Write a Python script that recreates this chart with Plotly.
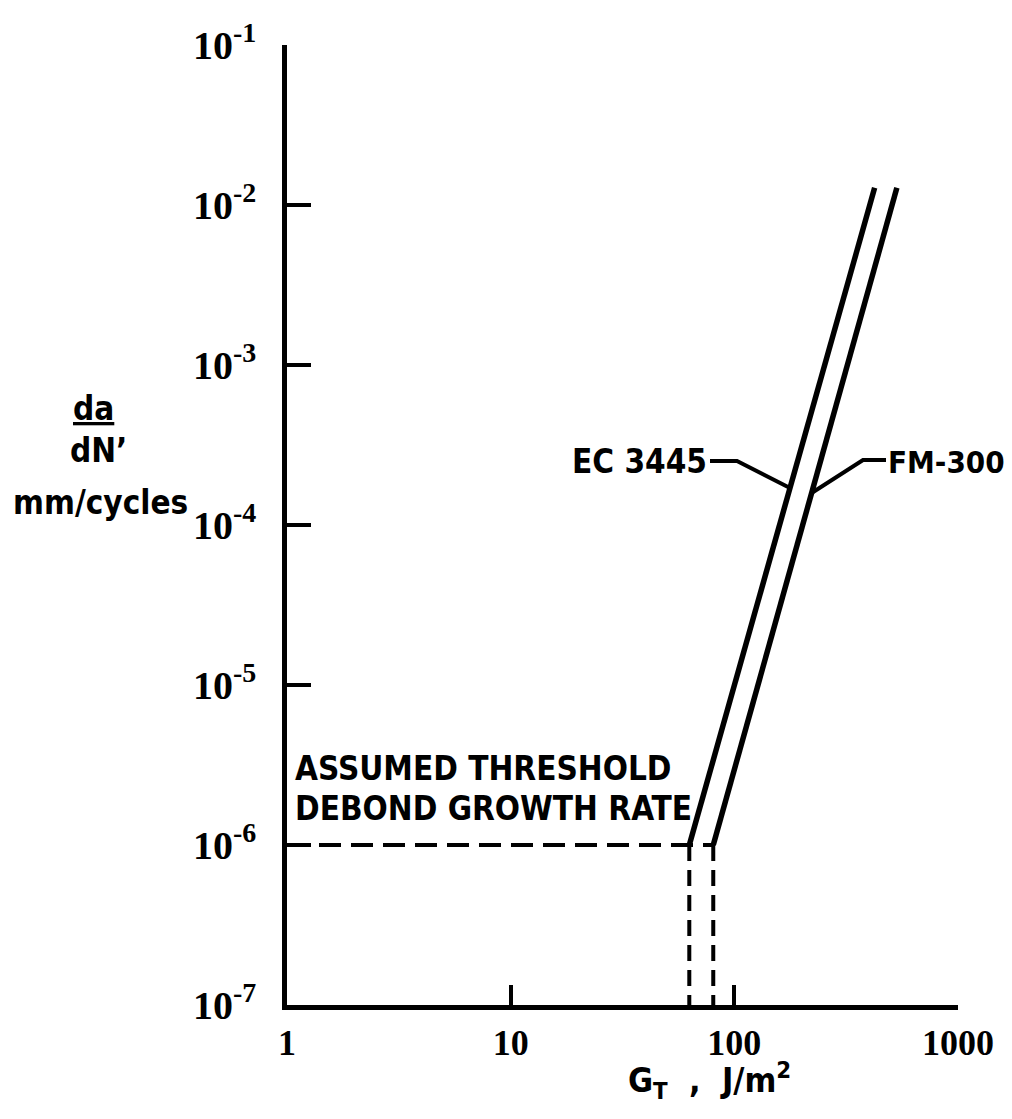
import plotly.graph_objects as go
import math

# ---------------- data ----------------
x_tick_vals = [1, 10, 100, 1000]
x_tick_text = ["1", "10", "100", "1000"]
y_tick_exponents = [-1, -2, -3, -4, -5, -6, -7]

threshold_rate = 1e-6            # assumed threshold debond growth rate, mm/cycle
ec_G = [62.9, 424.0]             # EC 3445, G_T (J/m^2)
ec_rate = [1e-6, 1.28e-2]        # EC 3445, da/dN (mm/cycle)
fm_G = [80.5, 533.0]             # FM-300, G_T (J/m^2)
fm_rate = [1e-6, 1.28e-2]        # FM-300, da/dN (mm/cycle)

axis_min_rate = 1e-7

# ---------------- layout geometry ----------------
W, H = 1012, 1119
L, R, T, B = 287, 54, 45, 114
PW, PH = W - L - R, H - T - B

def px_x(px):
    return (px - L) / PW

def px_y(py):
    return (H - B - py) / PH

def G_on_line(Gs, rates, rate):
    lx0, lx1 = math.log10(Gs[0]), math.log10(Gs[1])
    ly0, ly1 = math.log10(rates[0]), math.log10(rates[1])
    t = (math.log10(rate) - ly0) / (ly1 - ly0)
    return 10 ** (lx0 + t * (lx1 - lx0))

def g_from_px(px):
    return 10 ** ((px - L) / PW * 3)

def r_from_py(py):
    return 10 ** (-1 - (py - T) / PH * 6)

sans = "DejaVu Sans Condensed, DejaVu Sans, sans-serif"
serif = "Liberation Serif, serif"
lab_font = dict(family=sans, size=33, color="black", weight="bold")

fig = go.Figure()

line_style = dict(color="black", width=5.5)

# main curves
fig.add_trace(go.Scatter(x=ec_G, y=ec_rate, mode="lines", line=line_style,
                         showlegend=False, hoverinfo="skip"))
fig.add_trace(go.Scatter(x=fm_G, y=fm_rate, mode="lines", line=line_style,
                         showlegend=False, hoverinfo="skip"))

# threshold dashed lines
fig.add_trace(go.Scatter(x=[1, fm_G[0]], y=[threshold_rate, threshold_rate], mode="lines",
                         line=dict(color="black", width=4, dash="22px,10px"),
                         showlegend=False, hoverinfo="skip"))
for g in (ec_G[0], fm_G[0]):
    fig.add_trace(go.Scatter(x=[g, g], y=[threshold_rate, axis_min_rate], mode="lines",
                             line=dict(color="black", width=4, dash="16px,9px"),
                             showlegend=False, hoverinfo="skip"))

# leader lines for labels
ec_pt_rate = r_from_py(488)
ec_pt_G = G_on_line(ec_G, ec_rate, ec_pt_rate)
ec_lead_y = r_from_py(461)
fig.add_trace(go.Scatter(x=[g_from_px(710), g_from_px(737), ec_pt_G],
                         y=[ec_lead_y, ec_lead_y, ec_pt_rate], mode="lines",
                         line=dict(color="black", width=4),
                         showlegend=False, hoverinfo="skip"))
fm_pt_rate = r_from_py(493)
fm_pt_G = G_on_line(fm_G, fm_rate, fm_pt_rate)
fm_lead_y = r_from_py(460)
fig.add_trace(go.Scatter(x=[fm_pt_G, g_from_px(863), g_from_px(886)],
                         y=[fm_pt_rate, fm_lead_y, fm_lead_y], mode="lines",
                         line=dict(color="black", width=4),
                         showlegend=False, hoverinfo="skip"))

annotations = [
    dict(text="EC 3445", x=px_x(709), y=px_y(462), xanchor="right", yanchor="middle",
         font=lab_font),
    dict(text="FM-300", x=px_x(886), y=px_y(462), xanchor="left", yanchor="middle",
         font=dict(family=sans, size=31, color="black", weight="bold")),
    dict(text="ASSUMED THRESHOLD", x=px_x(293), y=px_y(768),
         xanchor="left", yanchor="middle", font=lab_font),
    dict(text="DEBOND GROWTH RATE", x=px_x(293), y=px_y(808),
         xanchor="left", yanchor="middle", font=lab_font),
    dict(text="<u>da</u>", x=px_x(93), y=px_y(408), xanchor="center", yanchor="middle",
         font=lab_font),
    dict(text="dN’", x=px_x(98), y=px_y(450), xanchor="center", yanchor="middle",
         font=lab_font),
    dict(text="mm/cycles", x=px_x(100), y=px_y(502), xanchor="center", yanchor="middle",
         font=lab_font),
    dict(text="G<sub>T</sub>  ,  J/m<sup>2</sup>", x=px_x(709), y=px_y(1080),
         xanchor="center", yanchor="middle",
         font=dict(family=sans, size=34, color="black", weight="bold")),
]
for a in annotations:
    a.update(xref="paper", yref="paper", showarrow=False)

fig.update_layout(
    width=W, height=H, autosize=False,
    margin=dict(l=L, r=R, t=T, b=B, pad=0),
    paper_bgcolor="white", plot_bgcolor="white",
    showlegend=False,
    annotations=annotations,
    xaxis=dict(
        type="log", range=[0, 3],
        showline=True, linecolor="black", linewidth=4.5,
        showgrid=False, zeroline=False,
        ticks="inside", ticklen=20, tickwidth=4, tickcolor="black",
        tickmode="array", tickvals=x_tick_vals, ticktext=x_tick_text,
        tickfont=dict(family=serif, size=36, color="black", weight="bold"),
        ticklabelstandoff=2,
    ),
    yaxis=dict(
        type="log", range=[-7, -1],
        showline=True, linecolor="black", linewidth=4.5,
        showgrid=False, zeroline=False,
        ticks="inside", ticklen=24, tickwidth=4, tickcolor="black",
        tickmode="array",
        tickvals=[10.0 ** e for e in y_tick_exponents],
        ticktext=[f"10<sup>{e}</sup>" for e in y_tick_exponents],
        tickfont=dict(family=serif, size=40, color="black", weight="bold"),
        ticklabelstandoff=18,
    ),
)

fig.write_html("out.html",
               config={"displayModeBar": False},
               post_script="document.body.style.margin='0';document.body.style.overflow='hidden';")
